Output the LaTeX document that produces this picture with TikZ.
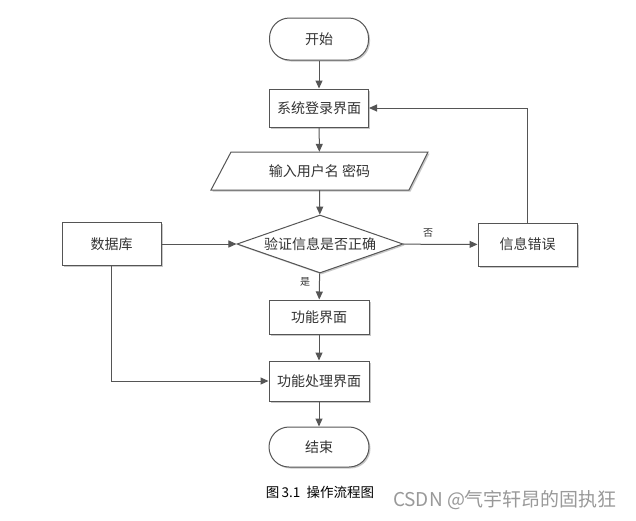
\documentclass[tikz,border=0pt]{standalone}
\usepackage{fontspec}
\setmainfont{Noto Sans CJK SC}
\usetikzlibrary{arrows.meta,shapes.geometric,shadows}
\definecolor{linec}{HTML}{555555}
\definecolor{textc}{HTML}{333333}
\begin{document}
\begin{tikzpicture}[x=1pt,y=-1pt,
  shad/.style={drop shadow={shadow xshift=1.5pt, shadow yshift=-1.5pt, fill=black!22, opacity=1}},
  box/.style={draw=linec, fill=white, line width=1pt, minimum width=99pt, minimum height=38pt,
    inner sep=0pt, font=\fontsize{14}{16}\selectfont, text=textc, shad},
  term/.style={box, rounded corners=20pt, minimum height=42pt},
  decision/.style={box, shape=diamond, aspect=2.86, minimum width=166pt, minimum height=58pt},
  arr/.style={draw=linec, line width=1pt, -{Triangle[length=8pt,width=7pt]}},
  lbl/.style={font=\fontsize{10}{12}\selectfont, text=textc, inner sep=0pt}
]
\fill[white] (0,0) rectangle (636,520);
\useasboundingbox (0,0) rectangle (636,520);

\node[term] (start) at (319,39) {开始};
\node[box] (login) at (319,108) {系统登录界面};
\path[draw=linec, fill=white, line width=1pt, shad] (211,190) -- (231,152) -- (428,152) -- (409,190) -- cycle;
\node[minimum width=178pt, minimum height=38pt, inner sep=0pt, font=\fontsize{14}{16}\selectfont, text=textc] (inp) at (319.5,171) {输入用户名 密码};
\node[decision] (dec) at (320,244) {验证信息是否正确};
\node[box, minimum height=43pt] (db) at (111.5,244) {数据库};
\node[box, minimum height=43pt] (err) at (527.5,244.5) {信息错误};
\node[box, minimum width=100pt, minimum height=34pt] (func) at (319,317) {功能界面};
\node[box, minimum width=100pt, minimum height=40pt] (proc) at (319,381) {功能处理界面};
\node[term, minimum width=100pt, minimum height=40pt] (end) at (319,447) {结束};

\draw[arr] (start) -- (login);
\draw[arr] (login) -- (inp);
\draw[arr] (inp) -- (dec);
\draw[arr] (dec) -- (func);
\draw[arr] (func) -- (proc);
\draw[arr] (proc) -- (end);
\draw[arr] (db) -- (dec);
\draw[arr] (dec) -- (err);
\draw[arr] (err.north) |- (login.east);
\draw[arr] (db.south) |- (proc.west);

\node[lbl] (no) at (428,233) {否};
\node[lbl] (yes) at (305,282) {是};

\node[font=\fontsize{13.5}{15}\selectfont, text=black, inner sep=0pt] (cap) at (320,492) {图\,3.1\ \ 操作流程图};
\node[font=\fontsize{19}{22}\selectfont, text=black!40, inner sep=0pt] (wm) at (505,500) {CSDN @气宇轩昂的固执狂};
\end{tikzpicture}
\end{document}
